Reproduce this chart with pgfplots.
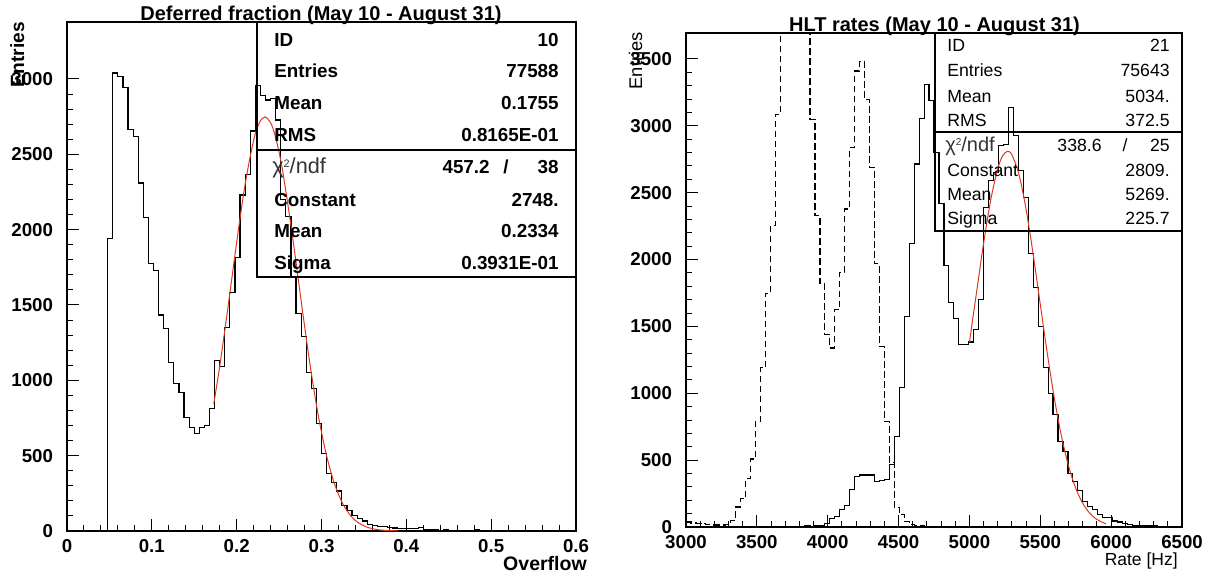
\documentclass[border=0pt]{standalone}
\usepackage{fontspec}
\setmainfont{Liberation Sans}
\usepackage{pgfplots}
\pgfplotsset{compat=1.18}
\definecolor{fitred}{rgb}{0.87,0.22,0.12}
\pgfplotsset{rootaxis/.style={
  scale only axis, anchor=south west,
  axis line style={line width=0.7pt},
  tick align=inside, tick pos=left,
  major tick length=7pt, minor tick length=3.5pt,
  minor x tick num=4, minor y tick num=4,
  scaled ticks=false,
  /pgf/number format/assume math mode=true,
  /pgf/number format/1000 sep={},
  tick style={line width=0.6pt, black},
  ticklabel style={font=\bfseries\fontsize{11.2}{12}\selectfont},
  yticklabel style={anchor=east, inner sep=0pt, xshift=-8.2pt},
  xticklabel style={anchor=north, inner sep=0pt, yshift=-5pt},
}}
\begin{document}
\begin{tikzpicture}
\path[use as bounding box] (0,0) rectangle (730.2pt,345.6pt);
% ---------------- left panel
\begin{axis}[rootaxis, at={(40.2pt,27pt)}, width=305.4pt, height=305.4pt,
  xmin=0, xmax=0.6, ymin=0, ymax=3378,
  xtick={0,0.1,0.2,0.3,0.4,0.5,0.6}, ytick={0,500,1000,1500,2000,2500,3000}]
\addplot[const plot, black, line width=0.7pt] coordinates {
(0,0) (0.048,1940) (0.054,3040) (0.060,3015) (0.066,2945) (0.072,2665) (0.078,2620)
(0.084,2310) (0.090,2080) (0.096,1775) (0.102,1730) (0.108,1434) (0.114,1345)
(0.120,1120) (0.126,981) (0.132,917) (0.138,756) (0.144,689) (0.150,649) (0.156,689)
(0.162,698) (0.168,815) (0.174,1131) (0.180,1091) (0.186,1352) (0.192,1584)
(0.198,1816) (0.204,2230) (0.210,2365) (0.216,2655) (0.222,2955) (0.228,2890)
(0.234,2860) (0.240,2870) (0.246,2728) (0.252,2200) (0.258,2086) (0.264,1690)
(0.270,1445) (0.276,1290) (0.282,1054) (0.288,943) (0.294,716) (0.300,512)
(0.306,384) (0.312,320) (0.318,265) (0.324,170) (0.330,137) (0.336,104) (0.342,82)
(0.348,66) (0.354,45) (0.360,38) (0.366,30) (0.372,28) (0.378,22) (0.384,20)
(0.390,18) (0.396,15) (0.402,14) (0.408,14) (0.414,25) (0.420,12) (0.426,8)
(0.432,8) (0.438,6) (0.444,10) (0.450,6) (0.456,5) (0.462,5) (0.468,4) (0.474,6)
(0.480,8) (0.486,5) (0.492,4) (0.498,4) (0.504,3) (0.510,4) (0.516,3) (0.522,6)
(0.528,3) (0.534,3) (0.540,3) (0.546,2) (0.552,3) (0.558,2) (0.564,3) (0.570,2)
(0.576,6) (0.582,3) (0.588,2) (0.594,2) (0.6,2)};
\addplot[smooth, fitred, line width=0.6pt] coordinates {
(0.173,844) (0.180,1092) (0.190,1494) (0.200,1915) (0.210,2302) (0.220,2593)
(0.227,2712) (0.2334,2748) (0.240,2710) (0.245,2631) (0.250,2514) (0.255,2363)
(0.265,1989) (0.275,1570) (0.285,1161) (0.295,805) (0.305,523) (0.315,319)
(0.325,182) (0.335,97) (0.345,49) (0.355,23) (0.365,10) (0.375,4.2) (0.390,1)};
\end{axis}
% ---------------- right panel
\begin{axis}[rootaxis, at={(411.6pt,29.4pt)}, width=297.6pt, height=296.4pt,
  xmin=3000, xmax=6500, ymin=0, ymax=3694,
  xtick={3000,3500,4000,4500,5000,5500,6000,6500},
  ytick={0,500,1000,1500,2000,2500,3000,3500}]
\addplot[const plot, black, line width=0.7pt, dash pattern=on 4pt off 2pt] coordinates {
(3000,37) (3035,30) (3070,25) (3105,25) (3140,20) (3175,15) (3210,15) (3245,15)
(3280,20) (3315,50) (3350,149) (3385,211) (3420,360) (3455,508) (3490,788)
(3525,1190) (3560,1748) (3595,2254) (3630,3087) (3665,4200) (3700,4600) (3735,4800)
(3770,4700) (3805,4500) (3840,4200) (3875,3050) (3910,2328) (3945,1818) (3980,1440)
(4015,1339) (4050,1624) (4085,1905) (4120,2378) (4155,2838) (4190,3410) (4225,3480)
(4260,3199) (4295,2689) (4330,1968) (4365,1351) (4400,788) (4435,480) (4470,144)
(4505,94) (4540,40) (4575,20) (4610,12) (4645,8) (4680,5) (4715,4) (4750,3)
(4785,3) (4820,2) (4855,2) (4890,2) (4925,1) (4960,1) (4995,0) (5100,0)};
\addplot[const plot, black, line width=0.7pt] coordinates {
(3000,0) (3805,5) (3840,8) (3875,5) (3910,10) (3945,12) (3980,25) (4015,62)
(4050,79) (4085,131) (4120,161) (4155,283) (4190,377) (4225,389) (4260,389)
(4295,389) (4330,340) (4365,347) (4400,355) (4435,466) (4470,674) (4505,1046)
(4540,1574) (4575,2122) (4610,2714) (4645,3057) (4680,3311) (4715,3192) (4750,2800)
(4785,2416) (4820,1955) (4855,1680) (4890,1560) (4925,1363) (4960,1363) (4995,1383)
(5030,1475) (5065,1700) (5100,2390) (5135,2590) (5170,2650) (5205,2851) (5240,2860)
(5275,3137) (5310,2925) (5345,2664) (5380,2465) (5415,2045) (5450,1793) (5485,1500)
(5520,1195) (5555,997) (5590,843) (5625,640) (5660,565) (5695,397) (5730,342)
(5765,273) (5800,193) (5835,154) (5870,131) (5905,94) (5940,74) (5975,70) (6010,45)
(6045,37) (6080,25) (6115,20) (6150,14) (6185,12) (6220,10) (6255,10) (6290,8)
(6325,6) (6360,6) (6395,5) (6430,4) (6465,3) (6500,3)};
\addplot[smooth, fitred, line width=0.6pt] coordinates {
(5000,1381) (5050,1754) (5100,2122) (5150,2444) (5200,2681) (5235,2777) (5269,2809)
(5300,2783) (5350,2634) (5400,2374) (5450,2036) (5500,1664) (5550,1294) (5600,958)
(5650,676) (5700,454) (5750,290) (5800,176) (5850,102) (5900,56) (5950,30) (5965,24)};
\end{axis}
% ---------------- texts and stat boxes (pixel coordinates)
\begin{scope}[x=0.6pt, y=-0.6pt, shift={(0pt,345.6pt)},
  lt/.style={anchor=base west, inner sep=0pt},
  rt/.style={anchor=base east, inner sep=0pt}]
% titles
\node[anchor=base, inner sep=0pt, font=\bfseries\fontsize{12}{13}\selectfont] at (321,21)
  {Deferred fraction (May 10 - August 31)};
\node[anchor=base, inner sep=0pt, font=\bfseries\fontsize{12}{13}\selectfont] at (934.5,32)
  {HLT rates (May 10 - August 31)};
% axis labels
\node[rotate=90, anchor=base east, inner sep=0pt, font=\bfseries\fontsize{11.5}{12}\selectfont] at (24,22) {Entries};
\node[rotate=90, anchor=base east, inner sep=0pt, font=\fontsize{11}{12}\selectfont] at (642,32) {Entries};
\node[rt, font=\bfseries\fontsize{11.7}{12}\selectfont] at (587,570) {Overflow};
\node[rt, font=\fontsize{10.5}{12}\selectfont] at (1178,565) {Rate [Hz]};
% left stat box
\draw[line width=0.7pt] (257,22) rectangle (576,277);
\draw[line width=0.7pt] (257,150) -- (576,150);
\begin{scope}[every node/.style={font=\bfseries\fontsize{11.3}{12}\selectfont}]
\node[lt] at (274,47) {ID};        \node[rt] at (559,47) {10};
\node[lt] at (274,78) {Entries};   \node[rt] at (559,78) {77588};
\node[lt] at (274,110) {Mean};     \node[rt] at (559,110) {0.1755};
\node[lt] at (274,142) {RMS};      \node[rt] at (559,142) {0.8165E-01};
\node[lt, font=\mdseries\fontsize{13}{14}\selectfont, text=black!80] at (272,174)
  {χ\raisebox{0.55ex}{\fontsize{6.5}{7}\selectfont 2}/ndf};
\node[rt] at (490,174) {457.2}; \node[anchor=base, inner sep=0pt] at (506,174) {/};
\node[rt] at (559,174) {38};
\node[lt] at (274,206) {Constant}; \node[rt] at (559,206) {2748.};
\node[lt] at (274,237) {Mean};     \node[rt] at (559,237) {0.2334};
\node[lt] at (274,269) {Sigma};    \node[rt] at (559,269) {0.3931E-01};
\end{scope}
% right stat box
\draw[line width=0.7pt] (935,33) rectangle (1182,231);
\draw[line width=0.7pt] (935,132) -- (1182,132);
\begin{scope}[every node/.style={font=\fontsize{10.6}{12}\selectfont}]
\node[lt] at (947,51.5) {ID};       \node[rt] at (1170,51.5) {21};
\node[lt] at (947,76.5) {Entries};  \node[rt] at (1170,76.5) {75643};
\node[lt] at (947,102.5) {Mean};    \node[rt] at (1170,102.5) {5034.};
\node[lt] at (947,126.5) {RMS};     \node[rt] at (1170,126.5) {372.5};
\node[lt, font=\fontsize{12}{13}\selectfont, text=black!80] at (945,151.5)
  {χ\raisebox{0.55ex}{\fontsize{6}{7}\selectfont 2}/ndf};
\node[rt] at (1102,151.5) {338.6}; \node[anchor=base, inner sep=0pt] at (1125,151.5) {/};
\node[rt] at (1170,151.5) {25};
\node[lt] at (947,176.5) {Constant}; \node[rt] at (1170,176.5) {2809.};
\node[lt] at (947,201) {Mean};       \node[rt] at (1170,201) {5269.};
\node[lt] at (947,225) {Sigma};      \node[rt] at (1170,225) {225.7};
\end{scope}
\end{scope}
\end{tikzpicture}
\end{document}
